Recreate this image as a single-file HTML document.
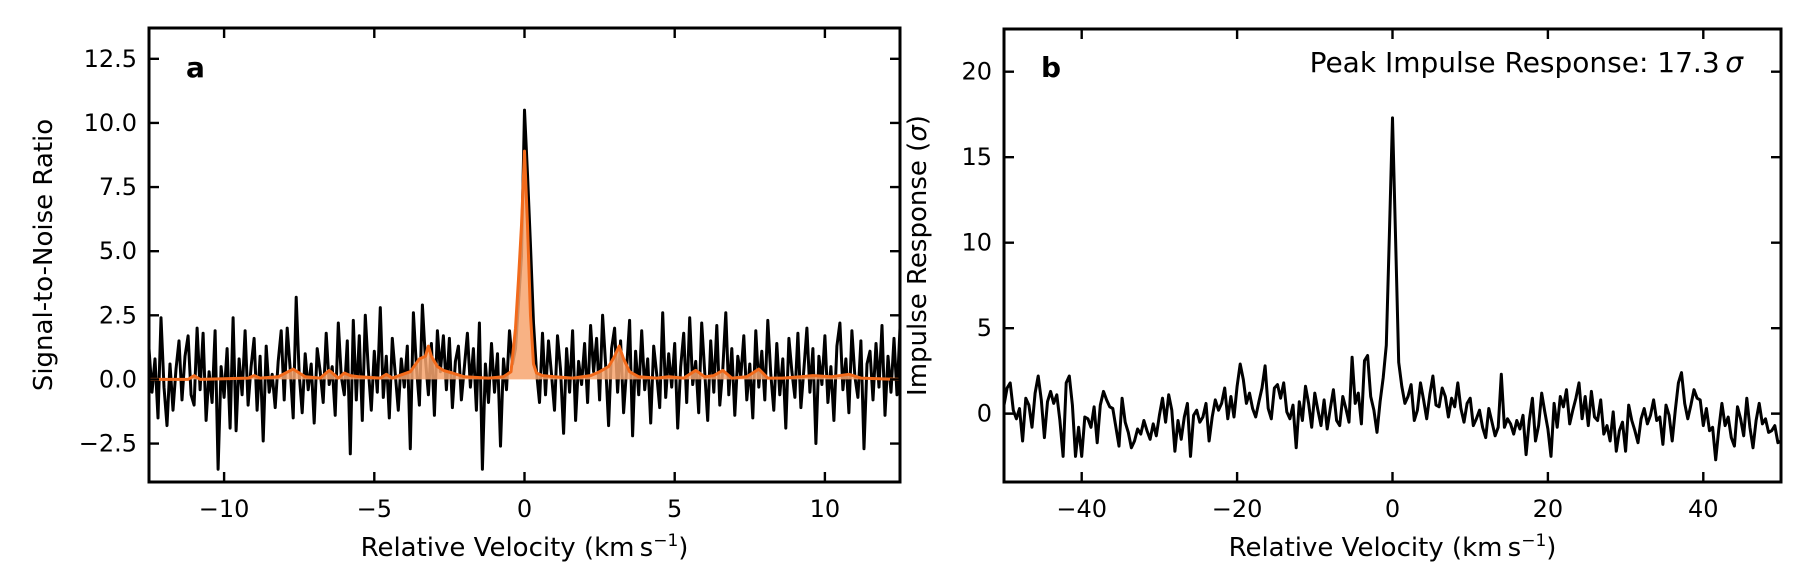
<!DOCTYPE html>
<html><head><meta charset="utf-8"><style>
html,body{margin:0;padding:0;background:#fff}
svg{display:block;font-family:"DejaVu Sans","Liberation Sans",sans-serif}
</style></head><body>
<svg id="fig" width="1809" height="583" viewBox="0 0 1809 583" xmlns="http://www.w3.org/2000/svg"></svg>
<script>
// ---- Panel a data ----
const snrStart = -12.5, snrStep = 0.1;
const snrValues = [
1.2,-0.5,0.8,-1.5,2.4,-0.3,-1.8,0.6,-1.2,0.4,1.5,-0.8,0.9,1.7,-0.6,-1.0,2.0,-0.4,1.8,-1.6,0.3,-0.9,1.9,-3.5,0.5,
-0.7,1.2,-1.9,2.4,-2.0,0.8,-0.6,1.9,-1.0,0.5,1.6,-1.2,0.9,-2.4,1.3,-0.5,0.2,-1.1,0.7,1.9,-0.8,2.0,0.4,-1.5,3.2,
0.2,-1.3,1.0,-0.4,0.6,-1.7,1.2,0.3,-0.9,1.8,-0.2,0.5,-1.4,2.2,0.1,-0.6,1.5,-2.9,2.3,-0.8,1.7,-1.6,2.5,0.4,-1.2,
1.1,-0.5,2.8,-0.7,0.9,-1.5,1.6,0.2,-1.2,0.8,-0.3,1.3,-2.7,2.6,0.5,-1.0,2.9,0.8,-0.6,1.4,-1.4,1.9,0.3,1.7,-0.4,
1.6,-1.1,0.7,1.3,-0.8,0.5,1.8,-0.3,1.2,-1.2,2.2,-3.5,0.6,-0.9,1.4,-0.5,1.0,-2.6,0.8,-0.4,1.9,0.6,1.2,3.0,4.8,
10.5,8.0,5.2,2.2,0.3,-0.9,1.8,-0.6,1.5,0.2,-1.2,1.7,0.4,-2.1,1.2,-0.5,1.9,-1.6,0.7,-0.2,1.4,-0.9,2.1,0.3,1.6,
-0.8,2.5,0.6,-1.8,1.2,2.0,-0.5,1.5,-1.3,0.4,2.3,-2.2,1.1,-0.6,1.9,-0.4,0.8,-1.7,1.3,0.2,-1.1,2.6,-0.7,1.0,-0.3,
1.4,-1.9,0.5,1.8,-0.9,2.4,-0.2,0.7,-1.3,2.2,0.3,-1.6,1.5,-0.5,2.1,-1.0,0.4,2.6,-0.6,1.2,-1.4,0.9,0.1,1.7,-0.8,
0.6,-1.5,1.9,-0.3,1.1,-0.8,2.3,0.2,-1.2,1.4,-0.6,0.8,-1.9,1.6,0.3,-0.7,1.8,-1.1,0.4,2.0,-0.5,1.2,-2.5,0.9,-0.2,
1.7,-0.9,0.5,-1.6,1.3,2.2,-0.4,0.8,-1.3,1.9,0.1,-0.7,1.5,-2.7,0.6,1.1,-0.8,1.4,-0.3,2.1,-1.4,0.9,-0.5,1.6,-0.6,2.0];
const modelV = [-12.5,-11.2,-11.0,-10.8,-9.2,-9.0,-8.8,-8.2,-7.7,-7.3,-6.8,-6.5,-6.2,-6.0,-5.8,-5.5,-4.8,-4.6,-4.4,-3.8,-3.5,-3.3,-3.2,-3.1,-2.9,-2.7,-2.4,-2.0,-1.2,-0.7,-0.45,-0.3,-0.2,-0.1,0.0,0.1,0.2,0.3,0.4,0.6,1.0,1.6,2.2,2.5,2.8,3.0,3.15,3.3,3.5,3.8,4.4,4.8,5.3,5.7,6.0,6.3,6.6,6.9,7.4,7.8,8.1,8.6,9.2,9.6,10.2,10.8,11.2,12.5];
const modelY = [0.0,0.0,0.15,0.0,0.05,0.15,0.05,0.1,0.4,0.1,0.05,0.35,0.05,0.25,0.15,0.1,0.05,0.2,0.05,0.3,0.8,0.9,1.3,0.9,0.5,0.35,0.25,0.1,0.05,0.1,0.3,2.0,3.9,6.0,8.9,6.0,2.5,0.6,0.25,0.15,0.1,0.05,0.15,0.3,0.5,0.9,1.3,0.8,0.3,0.1,0.05,0.1,0.05,0.35,0.1,0.15,0.35,0.05,0.1,0.4,0.05,0.05,0.1,0.15,0.1,0.2,0.05,0.0];
const aXTicks = [-10,-5,0,5,10];
const aXTickLabels = ["\u221210","\u22125","0","5","10"];
const aYTicks = [-2.5,0,2.5,5,7.5,10,12.5];
const aYTickLabels = ["\u22122.5","0.0","2.5","5.0","7.5","10.0","12.5"];
// ---- Panel b data ----
const irStart = -50, irStep = 0.4;
const irValues = [
0.5,1.5,1.8,0.2,-0.3,0.3,-1.6,0.9,0.5,-0.8,1.2,2.2,0.8,-1.4,0.7,1.3,0.6,1.1,-0.4,-2.5,1.8,2.2,0.5,-2.5,-0.8,
-2.5,-0.2,-0.3,-0.8,0.4,-1.7,0.5,1.3,0.8,0.4,0.3,-0.8,-1.9,0.9,-0.5,-1.1,-2.0,-1.6,-0.9,-1.2,-0.4,-1.0,-1.5,-0.6,-1.3,
-0.1,0.9,-0.5,1.1,0.2,-2.2,-0.4,-1.5,-0.2,0.6,-2.5,-0.1,0.2,-0.5,-0.2,0.6,-1.6,-0.2,0.8,0.2,0.6,1.5,-0.3,1.0,-0.2,
1.6,2.9,2.0,0.6,1.2,0.3,-0.2,0.7,1.5,2.8,0.3,-0.3,1.5,1.7,0.9,1.8,0.1,-0.3,0.5,-2.0,0.7,-0.4,1.6,0.6,-0.8,
1.2,0.2,-0.7,0.8,-0.9,0.3,1.4,-0.4,-0.7,1.0,0.3,-0.5,3.3,0.6,1.2,-0.6,3.1,3.4,1.0,0.2,-1.1,0.7,2.1,4.0,10.5,
17.3,10.2,3.0,1.6,0.6,1.0,1.7,-0.4,0.2,1.8,0.8,-0.3,1.1,2.2,0.5,0.4,1.5,1.0,-0.2,0.9,0.4,1.8,0.3,-0.5,0.6,
0.9,-0.7,-0.3,0.2,-0.8,-1.4,0.3,-0.5,-1.3,-0.8,2.3,-0.8,-0.3,-0.6,-1.2,-0.4,-0.9,-0.1,-2.4,-0.4,0.9,-1.6,-0.7,1.2,0.1,
-0.9,-2.5,0.6,-0.8,1.0,0.4,1.4,-0.6,0.2,0.9,1.8,-0.3,1.0,-0.7,1.3,-0.2,-0.4,0.8,-1.2,-0.7,-1.6,0.1,-2.2,-1.0,-0.5,
-2.2,0.5,-0.4,-1.0,-1.7,-0.3,0.3,-0.6,-0.1,0.8,-0.4,-0.2,-1.8,0.5,-0.1,-1.6,0.2,1.8,2.4,0.6,-0.3,0.5,1.4,0.9,0.8,
-0.7,0.3,-1.0,-0.8,-2.7,-0.9,0.6,-0.7,-0.2,-1.4,-1.9,0.4,-0.3,-1.3,0.9,-0.8,-2.0,-0.4,0.6,-0.6,-0.3,-1.1,-1.0,-0.7,-1.7,-1.6];
const bXTicks = [-40,-20,0,20,40];
const bXTickLabels = ["\u221240","\u221220","0","20","40"];
const bYTicks = [0,5,10,15,20];
const bYTickLabels = ["0","5","10","15","20"];

const NS = "http://www.w3.org/2000/svg";
const svg = document.getElementById('fig');
function el(tag, attrs, parent, text){
  const e = document.createElementNS(NS, tag);
  for (const k in attrs) e.setAttribute(k, attrs[k]);
  if (text !== undefined) e.textContent = text;
  (parent || svg).appendChild(e);
  return e;
}
function scale(d0,d1,r0,r1){ return v => r0 + (v-d0)/(d1-d0)*(r1-r0); }

function panel(cfg){
  const g = el('g', {});
  
  
  const sx = scale(cfg.xlim[0], cfg.xlim[1], cfg.L, cfg.R);
  const sy = scale(cfg.ylim[0], cfg.ylim[1], cfg.B, cfg.T);
  const clipId = cfg.name + '-clip';
  const cp = el('clipPath', {id: clipId}, g);
  el('rect', {x: cfg.L, y: cfg.T, width: cfg.R-cfg.L, height: cfg.B-cfg.T}, cp);
  const plot = el('g', {'clip-path': 'url(#'+clipId+')'}, g);
  
  
  cfg.draw(plot, sx, sy);
  cfg.xt.forEach((t,i) => {
    const x = sx(t);
    const tk = el('path', {d: `M${x},${cfg.B}v-10M${x},${cfg.T}v10`, stroke: '#000', 'stroke-width': 2.4}, g);
    
    
    const lb = el('text', {x: x, y: cfg.B+35, 'font-size': 24, 'text-anchor': 'middle'}, g, cfg.xl[i]);
    
    
  });
  cfg.yt.forEach((t,i) => {
    const y = sy(t);
    const tk = el('path', {d: `M${cfg.L},${y}h10M${cfg.R},${y}h-10`, stroke: '#000', 'stroke-width': 2.4}, g);
    
    
    const lb = el('text', {x: cfg.L-12, y: y+8, 'font-size': 24, 'text-anchor': 'end'}, g, cfg.yl[i]);
    
    
  });
  const fr = el('rect', {x: cfg.L, y: cfg.T, width: cfg.R-cfg.L, height: cfg.B-cfg.T, fill: 'none', stroke: '#000', 'stroke-width': 3}, g);
  
  
  const xt = el('text', {x: (cfg.L+cfg.R)/2, y: 556, 'font-size': 26, 'text-anchor': 'middle'}, g);
  
  
  xt.innerHTML = 'Relative Velocity (km\u2009s<tspan dy="-10" font-size="17">\u22121</tspan><tspan dy="10">)</tspan>';
  const yt = el('text', {x: 0, y: 0, 'font-size': 26, 'text-anchor': 'middle', transform: `translate(${cfg.ylx},${(cfg.T+cfg.B)/2}) rotate(-90)`}, g);
  
  
  yt.innerHTML = cfg.ylabel;
  const pl = el('text', {x: cfg.L+37, y: 77, 'font-size': 28, 'font-weight': 'bold'}, g, cfg.letter);
  
  
  return {g, sx, sy};
}

function linePath(xs, ys, sx, sy){
  return xs.map((x,i) => (i?'L':'M') + sx(x).toFixed(1) + ',' + sy(ys[i]).toFixed(1)).join('');
}

const pa = panel({
  name: 'panel-a', L: 149, R: 900, T: 28, B: 482, xlim: [-12.5,12.5], ylim: [-4.0,13.7],
  xt: aXTicks, xl: aXTickLabels, yt: aYTicks, yl: aYTickLabels, letter: 'a', ylx: 52,
  ylabel: 'Signal-to-Noise Ratio',
  draw: (plot, sx, sy) => {
    const vx = snrValues.map((_,i) => snrStart + i*snrStep);
    const d = el('path', {d: linePath(vx, snrValues, sx, sy), fill: 'none', stroke: '#000', 'stroke-width': 3, 'stroke-linejoin': 'round'}, plot);
    
    
    const fillD = linePath(modelV, modelY, sx, sy) + `L${sx(modelV[modelV.length-1])},${sy(0)}L${sx(modelV[0])},${sy(0)}Z`;
    const f = el('path', {d: fillD, fill: '#f7a46e', 'fill-opacity': 0.85, stroke: 'none'}, plot);
    
    
    const m = el('path', {d: linePath(modelV, modelY, sx, sy), fill: 'none', stroke: '#f26a1b', 'stroke-width': 3, 'stroke-linejoin': 'round'}, plot);
    
    
  }
});

const pb = panel({
  name: 'panel-b', L: 1004, R: 1781, T: 29, B: 482, xlim: [-50,50], ylim: [-4.0,22.5],
  xt: bXTicks, xl: bXTickLabels, yt: bYTicks, yl: bYTickLabels, letter: 'b', ylx: 926,
  ylabel: 'Impulse Response (<tspan font-style="italic">\u03c3</tspan>)',
  draw: (plot, sx, sy) => {
    const vx = irValues.map((_,i) => irStart + i*irStep);
    const d = el('path', {d: linePath(vx, irValues, sx, sy), fill: 'none', stroke: '#000', 'stroke-width': 3, 'stroke-linejoin': 'round'}, plot);
    
    
  }
});
const pk = el('text', {x: 1743, y: 72, 'font-size': 28, 'text-anchor': 'end'}, pb.g);


pk.innerHTML = 'Peak Impulse Response: 17.3\u2009<tspan font-style="italic">\u03c3</tspan>';
</script>
</body></html>
